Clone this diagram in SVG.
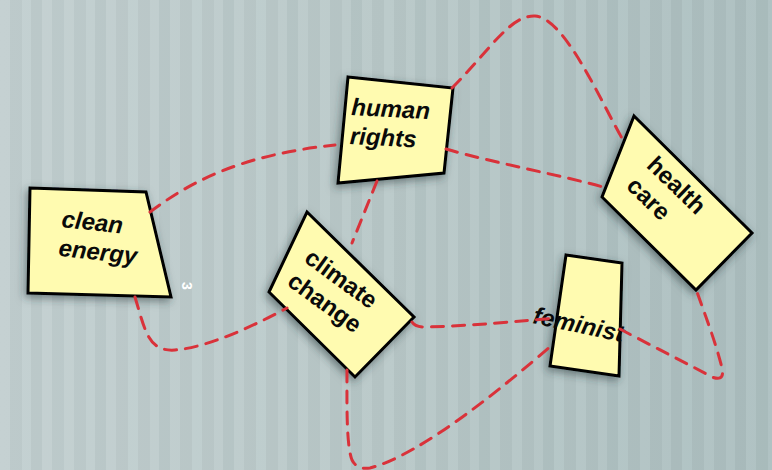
<svg xmlns="http://www.w3.org/2000/svg" width="772" height="470" viewBox="0 0 772 470">
  <defs>
    <linearGradient id="bg" x1="0" y1="0" x2="1" y2="0">
      <stop offset="0" stop-color="#c2cfd0"/>
      <stop offset="0.5" stop-color="#b8c8c8"/>
      <stop offset="1" stop-color="#acbfc0"/>
    </linearGradient>
    <pattern id="stripes" x="0" y="0" width="64" height="470" patternUnits="userSpaceOnUse">
      <rect x="0" y="0" width="10" height="470" fill="#ffffff" opacity="0.05"/>
      <rect x="10" y="0" width="12" height="470" fill="#000000" opacity="0.025"/>
      <rect x="22" y="0" width="9" height="470" fill="#ffffff" opacity="0.04"/>
      <rect x="31" y="0" width="11" height="470" fill="#000000" opacity="0.03"/>
      <rect x="42" y="0" width="10" height="470" fill="#ffffff" opacity="0.045"/>
      <rect x="52" y="0" width="12" height="470" fill="#000000" opacity="0.025"/>
    </pattern>
    <filter id="shadow" x="-30%" y="-30%" width="160%" height="160%">
      <feGaussianBlur in="SourceAlpha" stdDeviation="4"/>
      <feOffset dx="-2" dy="3" result="b"/>
      <feFlood flood-color="#2a3a3c" flood-opacity="0.55"/>
      <feComposite in2="b" operator="in"/>
      <feMerge>
        <feMergeNode/>
        <feMergeNode in="SourceGraphic"/>
      </feMerge>
    </filter>
  </defs>
  <style>
    .box { fill: #fffbb0; stroke: #000000; stroke-width: 3; stroke-linejoin: miter; filter: url(#shadow); }
    .lbl { font-family: "Liberation Sans", Arial, sans-serif; font-size: 24px; font-weight: bold; fill: #0a0a0a; }
    .it { font-style: italic; }
    .edge { fill: none; stroke: #d9323a; stroke-width: 3; stroke-dasharray: 12 9; stroke-linecap: round; }
  </style>

  <rect x="0" y="0" width="772" height="470" fill="url(#bg)"/>
  <rect x="0" y="0" width="772" height="470" fill="url(#stripes)"/>

  <g id="node-clean-energy">
    <polygon class="box" points="30,188 146,192 171,297 28,293"/>
    <g transform="translate(61,227) rotate(6)">
      <text class="lbl it" x="0" y="0">clean</text>
      <text class="lbl it" x="0" y="29">energy</text>
    </g>
  </g>

  <text x="0" y="0" transform="translate(182,286) rotate(90)" font-family="Liberation Sans, Arial, sans-serif" font-size="14" font-weight="bold" fill="#ffffff" text-anchor="middle">3</text>

  <g id="node-human-rights">
    <polygon class="box" points="348,77 453,88 444,173 338,183"/>
    <g transform="translate(351,115) rotate(3)">
      <text class="lbl it" x="0" y="0">human</text>
      <text class="lbl it" x="0" y="29">rights</text>
    </g>
  </g>

  <g id="node-climate-change">
    <polygon class="box" points="307,212 414,317 355,377 269,292"/>
    <g transform="translate(303,261) rotate(36)">
      <text class="lbl" x="0" y="0">climate</text>
      <text class="lbl" x="0" y="29">change</text>
    </g>
  </g>

  <g id="node-health-care">
    <polygon class="box" points="634,116 752,233 696,290 602,197"/>
    <g transform="translate(645.5,166.5) rotate(44)">
      <text class="lbl" x="0" y="0">health</text>
      <text class="lbl" x="0" y="29">care</text>
    </g>
  </g>

  <g id="node-feminist">
    <polygon class="box" points="566,255 622,263 619,376 550,366"/>
    <text class="lbl it" x="0" y="0" transform="translate(532,323) rotate(12)">feminist</text>
  </g>

  <g id="connectors">
    <path class="edge" d="M150,212 C190,182 240,155 335,145"/>
    <path class="edge" d="M452,88 C490,50 510,15 535,16 C565,18 600,100 623,140"/>
    <path class="edge" d="M446,149 C490,162 560,175 603,187"/>
    <path class="edge" d="M377,181 L352,243"/>
    <path class="edge" d="M135,297 C145,330 148,352 175,350 C210,347 255,325 287,308"/>
    <path class="edge" d="M412,322 Q415,327 425,327 C470,326 520,321 557,318"/>
    <path class="edge" d="M347,370 C347,400 346,445 352,460 Q357,470 370,468 C420,455 500,390 552,345"/>
    <path class="edge" d="M620,329 C650,345 690,365 712,377 Q725,382 722,368 C715,340 705,315 697,292"/>
  </g>
</svg>
